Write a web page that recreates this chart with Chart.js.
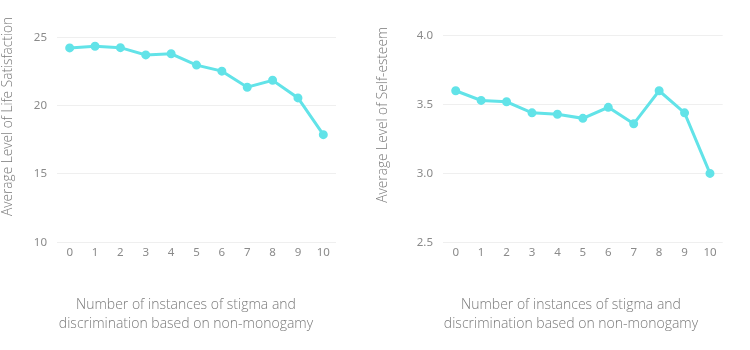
<!DOCTYPE html>
<html>
<head>
<meta charset="utf-8">
<script src="https://cdn.jsdelivr.net/npm/chart.js@4/dist/chart.umd.min.js"></script>
<style>
  html, body { margin: 0; padding: 0; background: #fff; overflow: hidden; width: 750px; height: 350px; }
  .box { position: absolute; top: 0; height: 350px; }
  .xt { position: absolute; top: 295px; width: 360px; text-align: center;
        font-family: 'Open Sans', sans-serif; font-weight: 300; font-size: 14px; line-height: 18.5px; color: #7a7a7a; }
</style>
</head>
<body>
<div class="box" id="b1" style="left:0px;width:372px;"><canvas id="c1"></canvas></div>
<div class="box" id="b2" style="left:375px;width:375px;"><canvas id="c2"></canvas></div>
<div class="xt" id="xt1" style="left:6px;"></div>
<div class="xt" id="xt2" style="left:391px;"></div>
<script>
const categories = ['0','1','2','3','4','5','6','7','8','9','10'];
const lifeSatisfaction = [24.23, 24.35, 24.25, 23.72, 23.8, 22.97, 22.53, 21.35, 21.86, 20.57, 17.88];
const selfEsteem = [3.60, 3.53, 3.52, 3.44, 3.43, 3.40, 3.48, 3.36, 3.60, 3.44, 3.00];
const lifeTicks = [10, 15, 20, 25];
const esteemTicks = [2.5, 3.0, 3.5, 4.0];
const xTitleLines = ['Number of instances of stigma and', 'discrimination based on non-monogamy'];
const yTitleLeft = 'Average Level of Life Satisfaction';
const yTitleRight = 'Average Level of Self-esteem';

for (const id of ['xt1', 'xt2']) {
  const el = document.getElementById(id);
  xTitleLines.forEach((line, i) => {
    if (i) el.appendChild(document.createElement('br'));
    el.appendChild(document.createTextNode(line));
  });
}

const lineColor = '#62e3e8';
const tickFont = { family: 'Noto Sans', size: 11.5 };
const tickColor = '#8a8a8a';

function makeChart(id, data, ticks, yMin, yMax, yTitle, yWidth, padTop, padRight, decimals) {
  return new Chart(document.getElementById(id), {
    type: 'line',
    data: {
      labels: categories,
      datasets: [{
        data: data,
        borderColor: lineColor,
        backgroundColor: lineColor,
        borderWidth: 3,
        pointRadius: 3,
        pointHoverRadius: 3,
        tension: 0
      }]
    },
    options: {
      responsive: true,
      maintainAspectRatio: false,
      animation: false,
      layout: { padding: { top: padTop, right: padRight, left: 0, bottom: 89.7 } },
      plugins: {
        legend: { display: false },
        tooltip: { enabled: false },
        title: { display: false }
      },
      scales: {
        x: {
          offset: true,
          grid: { display: false, drawTicks: false },
          border: { display: false },
          ticks: { color: tickColor, font: tickFont, padding: 4, maxRotation: 0 },
          afterFit: (axis) => { axis.height = 18; }
        },
        y: {
          min: yMin,
          max: yMax,
          afterBuildTicks: (axis) => { axis.ticks = ticks.map(v => ({ value: v })); },
          grid: { color: '#efefef', drawTicks: false, lineWidth: 1 },
          border: { display: false },
          ticks: {
            color: tickColor, font: tickFont, padding: 10,
            callback: (v) => decimals ? Number(v).toFixed(decimals) : String(v)
          },
          title: {
            display: true,
            text: yTitle,
            color: '#7a7a7a',
            align: 'end',
            font: { family: 'Open Sans', size: 13.7, weight: '300' },
            padding: { top: 0, bottom: 0 }
          },
          afterFit: (axis) => { axis.width = yWidth; }
        }
      }
    }
  });
}

makeChart('c1', lifeSatisfaction, lifeTicks, 10, 26.5, yTitleLeft, 57, 15, 36, 0);
makeChart('c2', selfEsteem, esteemTicks, 2.5, 4.063, yTitleRight, 68, 27, 27.3, 1);
</script>
</body>
</html>
